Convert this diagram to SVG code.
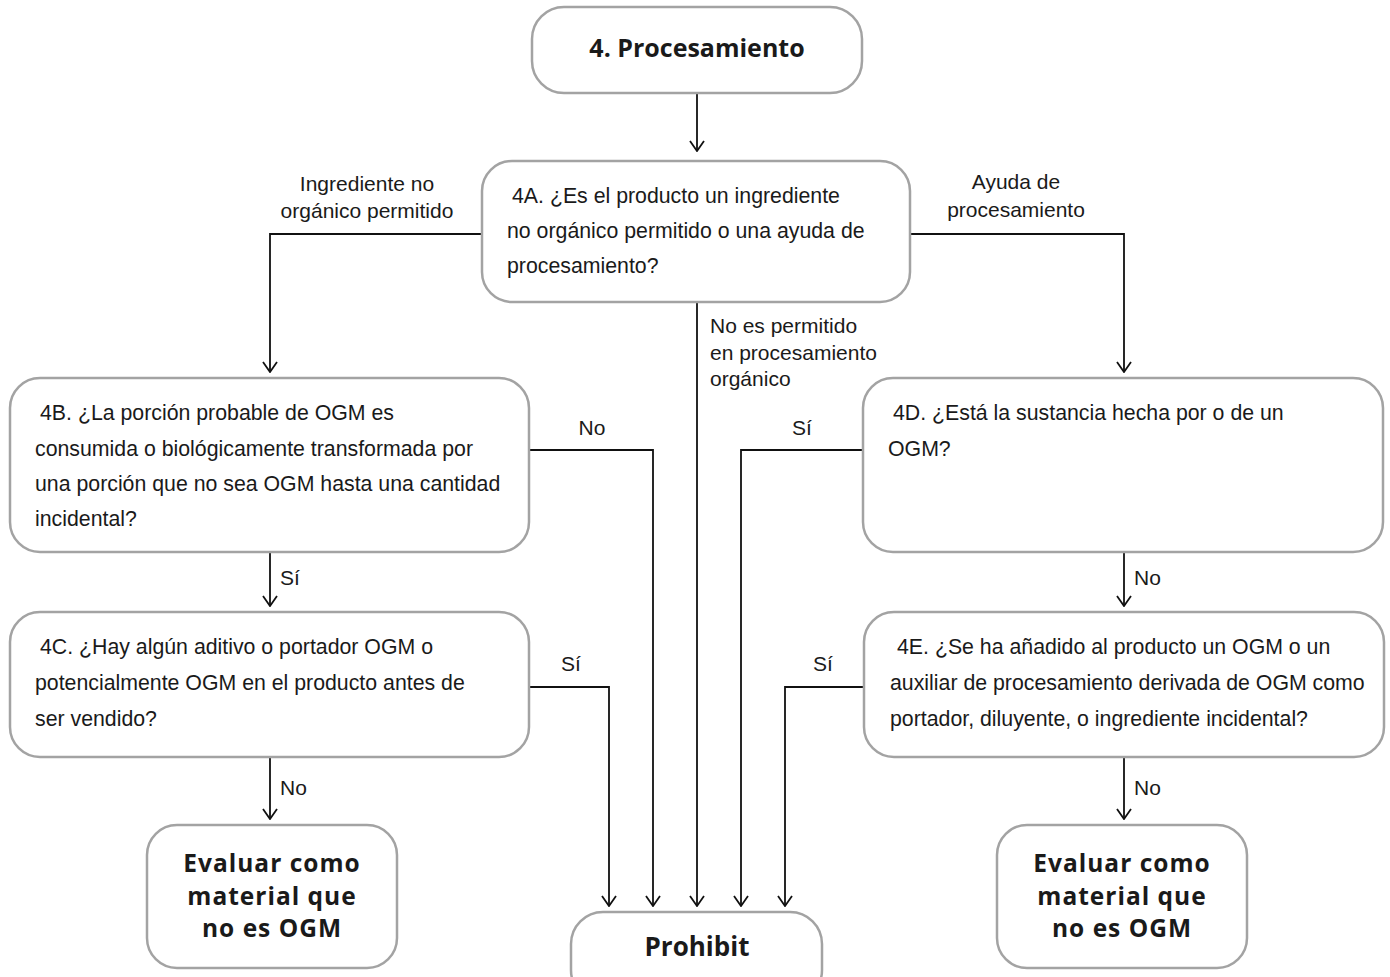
<svg xmlns="http://www.w3.org/2000/svg" width="1390" height="977" viewBox="0 0 1390 977">
<defs>
<style>
.box{fill:#fff;stroke:#a3a3a3;stroke-width:2.5}
.t{font-family:"Liberation Sans",Arial,sans-serif;font-size:21.3px;fill:#1a1a1a}
.lbl{font-family:"Liberation Sans",Arial,sans-serif;font-size:21px;fill:#1a1a1a}
.h{font-family:"Open Sans","Noto Sans",sans-serif;font-weight:bold;fill:#1a1a1a;text-anchor:middle}
.e{font-size:24.5px;letter-spacing:1px}
.c{fill:none;stroke:#111;stroke-width:1.8}
</style>
<marker id="ah" viewBox="0 0 12 16" refX="11" refY="8" markerWidth="12" markerHeight="16" markerUnits="userSpaceOnUse" orient="auto">
<path d="M1,1 L11,8 L1,15" fill="none" stroke="#111" stroke-width="1.8"/>
</marker>
</defs>
<rect width="1390" height="977" fill="#fff"/>
<g id="connectors">
<path class="c" d="M697,93 V151" marker-end="url(#ah)"/>
<path class="c" d="M482,234 H270 V372" marker-end="url(#ah)"/>
<path class="c" d="M910,234 H1124 V372" marker-end="url(#ah)"/>
<path class="c" d="M697,303 V906" marker-end="url(#ah)"/>
<path class="c" d="M530,450 H653 V906" marker-end="url(#ah)"/>
<path class="c" d="M863,450 H741 V906" marker-end="url(#ah)"/>
<path class="c" d="M270,552 V606" marker-end="url(#ah)"/>
<path class="c" d="M1124,552 V606" marker-end="url(#ah)"/>
<path class="c" d="M529,687 H609 V906" marker-end="url(#ah)"/>
<path class="c" d="M864,687 H785 V906" marker-end="url(#ah)"/>
<path class="c" d="M270,757 V819" marker-end="url(#ah)"/>
<path class="c" d="M1124,757 V819" marker-end="url(#ah)"/>
<text class="lbl" x="367" y="191" text-anchor="middle">Ingrediente no</text>
<text class="lbl" x="367" y="218" text-anchor="middle">orgánico permitido</text>
<text class="lbl" x="1016" y="189" text-anchor="middle">Ayuda de</text>
<text class="lbl" x="1016" y="217" text-anchor="middle">procesamiento</text>
<text class="lbl" x="710" y="333">No es permitido</text>
<text class="lbl" x="710" y="360">en procesamiento</text>
<text class="lbl" x="710" y="386">orgánico</text>
<text class="lbl" x="592" y="435" text-anchor="middle">No</text>
<text class="lbl" x="802" y="435" text-anchor="middle">Sí</text>
<text class="lbl" x="280" y="585">Sí</text>
<text class="lbl" x="1134" y="585">No</text>
<text class="lbl" x="571" y="671" text-anchor="middle">Sí</text>
<text class="lbl" x="823" y="671" text-anchor="middle">Sí</text>
<text class="lbl" x="280" y="795">No</text>
<text class="lbl" x="1134" y="795">No</text>
</g>
<g id="n-proc">
<rect class="box" x="532" y="7" width="330" height="86" rx="32"/>
<text class="h" x="697" y="57" font-size="25">4. Procesamiento</text>
</g>
<g id="n-4a">
<rect class="box" x="482" y="161" width="428" height="141" rx="30"/>
<text class="t" x="512" y="203">4A. ¿Es el producto un ingrediente</text>
<text class="t" x="507" y="238">no orgánico permitido o una ayuda de</text>
<text class="t" x="507" y="273">procesamiento?</text>
</g>
<g id="n-4b">
<rect class="box" x="10" y="378" width="519" height="174" rx="30"/>
<text class="t" x="40" y="420">4B. ¿La porción probable de OGM es</text>
<text class="t" x="35" y="456">consumida o biológicamente transformada por</text>
<text class="t" x="35" y="491">una porción que no sea OGM hasta una cantidad</text>
<text class="t" x="35" y="526">incidental?</text>
</g>
<g id="n-4d">
<rect class="box" x="863" y="378" width="520" height="174" rx="30"/>
<text class="t" x="893" y="420">4D. ¿Está la sustancia hecha por o de un</text>
<text class="t" x="888" y="456">OGM?</text>
</g>
<g id="n-4c">
<rect class="box" x="10" y="612" width="519" height="145" rx="30"/>
<text class="t" x="40" y="654">4C. ¿Hay algún aditivo o portador OGM o</text>
<text class="t" x="35" y="690">potencialmente OGM en el producto antes de</text>
<text class="t" x="35" y="726">ser vendido?</text>
</g>
<g id="n-4e">
<rect class="box" x="864" y="612" width="520" height="145" rx="30"/>
<text class="t" x="897" y="654">4E. ¿Se ha añadido al producto un OGM o un</text>
<text class="t" x="890" y="690">auxiliar de procesamiento derivada de OGM como</text>
<text class="t" x="890" y="726">portador, diluyente, o ingrediente incidental?</text>
</g>
<g id="n-eval-l">
<rect class="box" x="147" y="825" width="250" height="143" rx="30"/>
<text class="h e" x="272" y="872">Evaluar como</text>
<text class="h e" x="272" y="905">material que</text>
<text class="h e" x="272" y="937">no es OGM</text>
</g>
<g id="n-eval-r">
<rect class="box" x="997" y="825" width="250" height="143" rx="30"/>
<text class="h e" x="1122" y="872">Evaluar como</text>
<text class="h e" x="1122" y="905">material que</text>
<text class="h e" x="1122" y="937">no es OGM</text>
</g>
<g id="n-prohibit">
<rect class="box" x="571" y="912" width="251" height="90" rx="32"/>
<text class="h" x="697" y="956" font-size="26">Prohibit</text>
</g>
</svg>
